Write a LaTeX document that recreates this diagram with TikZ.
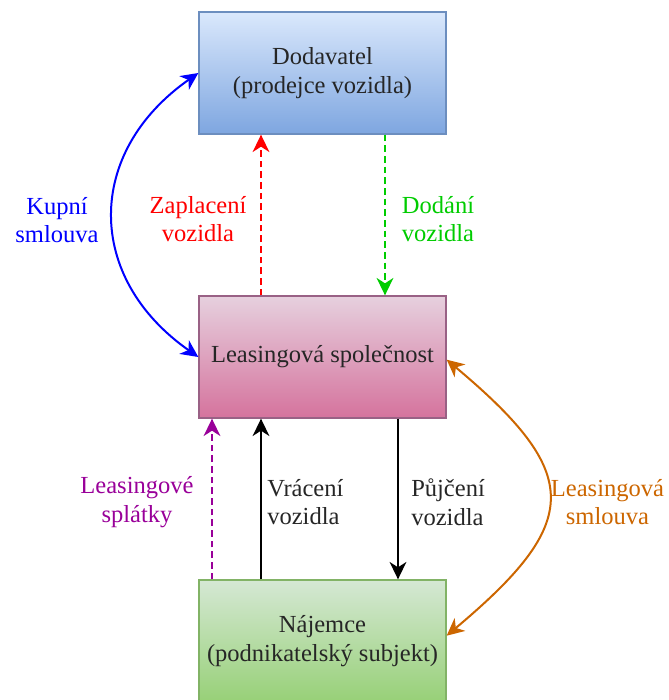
\documentclass[tikz,border=0pt]{standalone}
\usepackage{fontspec}
\setmainfont{Liberation Serif}
\usepackage{xcolor}
\usetikzlibrary{arrows.meta,positioning,calc}
\definecolor{dodTop}{HTML}{DAE8FC}
\definecolor{dodBot}{HTML}{7EA6E0}
\definecolor{dodLine}{HTML}{6C8EBF}
\definecolor{leaTop}{HTML}{E6D0DE}
\definecolor{leaBot}{HTML}{D5739D}
\definecolor{leaLine}{HTML}{996185}
\definecolor{najTop}{HTML}{D5E8D4}
\definecolor{najBot}{HTML}{97D077}
\definecolor{najLine}{HTML}{82B366}
\definecolor{kupBlue}{HTML}{0000FF}
\definecolor{zapRed}{HTML}{FF0000}
\definecolor{dodGreen}{HTML}{00CC00}
\definecolor{splPurple}{HTML}{990099}
\definecolor{smlOrange}{HTML}{CC6600}

\begin{document}
\begin{tikzpicture}[x=0.75pt, y=0.75pt,
  box/.style={rectangle, draw, line width=1pt, minimum width=185.25pt, minimum height=91.5pt, align=center, text=black!85, font=\fontsize{18.4pt}{21.5pt}\selectfont},
  lbl/.style={align=center, inner sep=0pt, font=\fontsize{18.4pt}{21.5pt}\selectfont},
  arr/.style={-{Stealth[length=13pt, width=12.5pt, inset=4pt]}, line width=1.5pt},
  dasharr/.style={arr, dash pattern=on 5pt off 3pt},
  twoarr/.style={{Stealth[length=13pt, width=12.5pt, inset=4pt]}-{Stealth[length=13pt, width=12.5pt, inset=4pt]}, line width=1.5pt}
]
\useasboundingbox (0,0) rectangle (668,-700);

% Top: supplier
\node[box, top color=dodTop, bottom color=dodBot, draw=dodLine] (dodavatel) at (322.5,-73) {Dodavatel\\(prodejce vozidla)};

% Middle: leasing company
\node[box, top color=leaTop, bottom color=leaBot, draw=leaLine] (leasing) at (322.5,-357) {Leasingová společnost};

% Bottom: lessee
\node[box, top color=najTop, bottom color=najBot, draw=najLine] (najemce) at (322.5,-641) {Nájemce\\(podnikatelský subjekt)};

% Supplier <-> leasing company
\draw[twoarr, kupBlue] (leasing.west) to[out=145, in=215, looseness=1.25] (dodavatel.west);
\draw[dasharr, zapRed] ($(leasing.north)+(-61.5,0)$) -- ($(dodavatel.south)+(-61.5,0)$);
\draw[dasharr, dodGreen] ($(dodavatel.south)+(62.5,0)$) -- ($(leasing.north)+(62.5,0)$);

\node[lbl, text=kupBlue] (kupni) at (57,-220) {Kupní\\smlouva};
\node[lbl, text=zapRed] (zaplaceni) at (198,-219) {Zaplacení\\vozidla};
\node[lbl, text=dodGreen] (dodani) at (438,-219) {Dodání\\vozidla};

% Leasing company <-> lessee
\draw[dasharr, splPurple] ($(najemce.north)+(-110.5,0)$) -- ($(leasing.south)+(-110.5,0)$);
\draw[arr] ($(najemce.north)+(-61.5,0)$) -- ($(leasing.south)+(-61.5,0)$);
\draw[arr] ($(leasing.south)+(75.5,0)$) -- ($(najemce.north)+(75.5,0)$);
\draw[twoarr, smlOrange] ([yshift=-2pt]leasing.east) to[out=-40, in=40, looseness=1.65] ([yshift=4pt]najemce.east);

\node[lbl, text=splPurple] (splatky) at (137,-502) {Leasingové\\splátky};
\node[lbl, text=black!85, align=left, anchor=west] (vraceni) at (267,-502) {Vrácení\\vozidla};
\node[lbl, text=black!85, align=left, anchor=west] (pujceni) at (411,-502) {Půjčení\\vozidla};
\node[lbl, text=smlOrange] (lsmlouva) at (607.5,-502) {Leasingová\\smlouva};

\end{tikzpicture}
\end{document}
